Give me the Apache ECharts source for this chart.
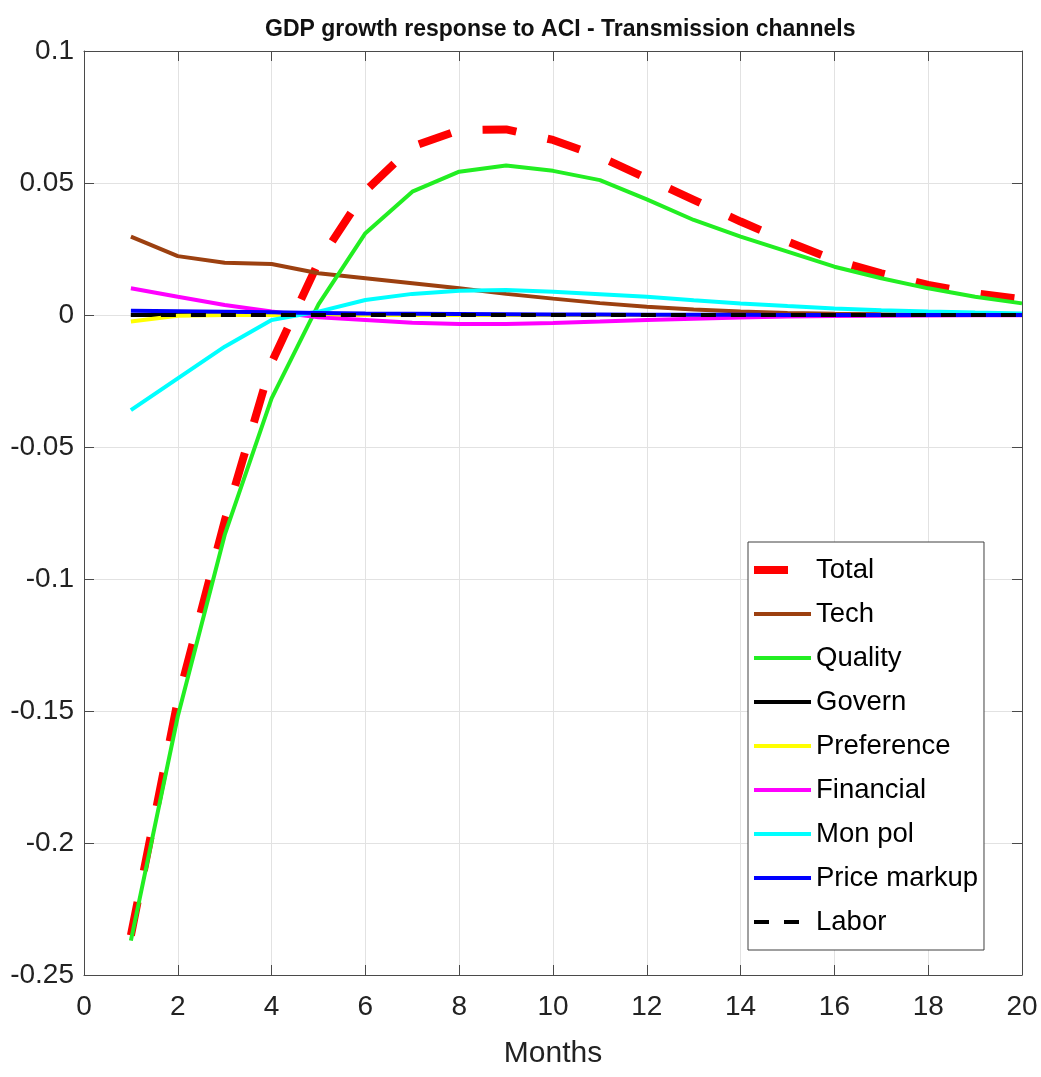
<!DOCTYPE html>
<html>
<head>
<meta charset="utf-8">
<script src="https://cdn.jsdelivr.net/npm/echarts@6/dist/echarts.min.js"></script>
<style>
  html, body { margin: 0; padding: 0; background: #fff; }
  #chart { width: 1041px; height: 1077px; }
</style>
</head>
<body>
<div id="chart"></div>
<script>
// months 1..20
var months = [1, 2, 3, 4, 5, 6, 7, 8, 9, 10, 11, 12, 13, 14, 15, 16, 17, 18, 19, 20]

var total = [-0.235, -0.146, -0.078, -0.018, 0.020, 0.047, 0.0638, 0.0700, 0.0703, 0.0663, 0.0600, 0.0518, 0.0436, 0.0354, 0.0278, 0.0208, 0.0158, 0.0114, 0.0082, 0.0060]
var tech = [0.0297, 0.0223, 0.0198, 0.0193, 0.0158, 0.0139, 0.0120, 0.0101, 0.0080, 0.0062, 0.0045, 0.0031, 0.0021, 0.0013, 0.0008, 0.0005, 0.0003, 0.0002, 0.0001, 0.0001]
var quality = [-0.237, -0.152, -0.0833, -0.0316, 0.004, 0.031, 0.0467, 0.0543, 0.0566, 0.0546, 0.0511, 0.0438, 0.0360, 0.0297, 0.0240, 0.0183, 0.0139, 0.0101, 0.0069, 0.0044]
var govern = [0, 0, 0, 0, 0, 0, 0, 0, 0, 0, 0, 0, 0, 0, 0, 0, 0, 0, 0, 0]
var preference = [-0.0025, -0.0003, 0, 0, 0, 0, 0, 0, 0, 0, 0, 0, 0, 0, 0, 0, 0, 0, 0, 0]
var financial = [0.0101, 0.0069, 0.0038, 0.0013, -0.0009, -0.0019, -0.0029, -0.0034, -0.0034, -0.0030, -0.0025, -0.0019, -0.0014, -0.0009, -0.0006, -0.0004, -0.0003, -0.0002, -0.0001, -0.0001]
var monPol = [-0.036, -0.024, -0.012, -0.0019, 0.0013, 0.0057, 0.0080, 0.0092, 0.0095, 0.0088, 0.0079, 0.0069, 0.0056, 0.0044, 0.0034, 0.0025, 0.0018, 0.0013, 0.0009, 0.0006]
var priceMarkup = [0.0016, 0.0014, 0.0012, 0.0010, 0.0008, 0.0006, 0.0005, 0.0004, 0.0003, 0.0002, 0.0002, 0.0001, 0.0001, 0.0001, 0, 0, 0, 0, 0, 0]
var labor = [0, 0, 0, 0, 0, 0, 0, 0, 0, 0, 0, 0, 0, 0, 0, 0, 0, 0, 0, 0]

var font = 'Liberation Sans, Arial, Helvetica, sans-serif'

function pairs (vals) {
  return months.map(function (m, i) { return [m, vals[i]] })
}

function line (name, vals, color, width, type) {
  return {
    name: name,
    type: 'line',
    data: pairs(vals),
    symbol: 'none',
    showSymbol: false,
    lineStyle: { color: color, width: width, type: type || 'solid', cap: 'butt' },
    itemStyle: { color: color },
    emphasis: { disabled: true }
  }
}

var axisCol = '#4a4a4a'
var gridCol = '#e2e2e2'

var myChart = echarts.init(document.getElementById('chart'))
myChart.setOption({
  backgroundColor: '#fff',
  animation: false,
  title: {
    text: 'GDP growth response to ACI - Transmission channels',
    left: 260,
    top: 13,
    textStyle: { fontFamily: font, fontSize: 23, fontWeight: 'bold', color: '#111' }
  },
  grid: { left: 84, top: 51, right: 19, bottom: 102 },
  legend: {
    orient: 'vertical',
    left: 748,
    top: 542,
    padding: [13, 6, 13, 2],
    itemWidth: 57,
    itemHeight: 10,
    itemGap: 14,
    icon: 'inherit',
    lineStyle: { width: 'inherit', type: 'inherit', cap: 'butt' },
    itemStyle: { color: 'rgba(0,0,0,0)', borderWidth: 0, borderColor: 'rgba(0,0,0,0)', opacity: 0 },
    backgroundColor: '#fff',
    borderColor: '#404040',
    borderWidth: 1,
    borderRadius: 0,
    selectedMode: false,
    textStyle: { fontFamily: font, fontSize: 27.5, lineHeight: 30, color: '#000' },
    data: ['Total', 'Tech', 'Quality', 'Govern', 'Preference', 'Financial', 'Mon pol', 'Price markup', 'Labor']
  },
  xAxis: [
    {
      type: 'value',
      min: 0,
      max: 20,
      interval: 2,
      name: 'Months',
      nameLocation: 'middle',
      nameGap: 64,
      nameTextStyle: { fontFamily: font, fontSize: 30, color: '#222' },
      axisLine: { onZero: false, lineStyle: { color: axisCol, width: 1 } },
      axisTick: { inside: true, length: 10, lineStyle: { color: axisCol } },
      axisLabel: { margin: 18, fontFamily: font, fontSize: 28, color: '#222' },
      splitLine: { show: true, lineStyle: { color: gridCol, width: 1 } }
    },
    {
      type: 'value',
      position: 'top',
      min: 0,
      max: 20,
      interval: 2,
      axisLine: { onZero: false, lineStyle: { color: axisCol, width: 1 } },
      axisTick: { inside: true, length: 10, lineStyle: { color: axisCol } },
      axisLabel: { show: false },
      splitLine: { show: false }
    }
  ],
  yAxis: [
    {
      type: 'value',
      min: -0.25,
      max: 0.1,
      interval: 0.05,
      axisLine: { onZero: false, lineStyle: { color: axisCol, width: 1 } },
      axisTick: { inside: true, length: 10, lineStyle: { color: axisCol } },
      axisLabel: {
        margin: 10,
        fontFamily: font,
        fontSize: 28,
        color: '#222',
        formatter: function (v) { return String(+v.toFixed(2)) }
      },
      splitLine: { show: true, lineStyle: { color: gridCol, width: 1 } }
    },
    {
      type: 'value',
      position: 'right',
      min: -0.25,
      max: 0.1,
      interval: 0.05,
      axisLine: { onZero: false, lineStyle: { color: axisCol, width: 1 } },
      axisTick: { inside: true, length: 10, lineStyle: { color: axisCol } },
      axisLabel: { show: false },
      splitLine: { show: false }
    }
  ],
  series: [
    line('Total', total, '#ff0000', 8, [34, 32]),
    line('Tech', tech, '#9c4010', 4),
    line('Quality', quality, '#22ee22', 4),
    line('Govern', govern, '#000000', 4),
    line('Preference', preference, '#ffff00', 4),
    line('Financial', financial, '#ff00ff', 4),
    line('Mon pol', monPol, '#00ffff', 4),
    line('Price markup', priceMarkup, '#0000ff', 4),
    line('Labor', labor, '#000000', 4, [15, 15])
  ]
})
</script>
</body>
</html>
